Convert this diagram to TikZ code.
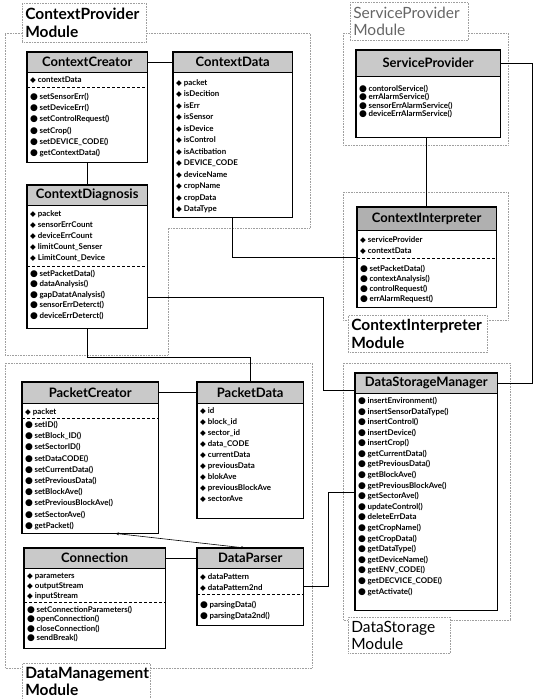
\documentclass[tikz,border=0pt]{standalone}
\usepackage{fontspec}
\setmainfont{Lato}
\newfontfamily\symf{DejaVu Sans}
\usetikzlibrary{shadows,arrows.meta}

% bullets for attributes and operations
\newcommand\attr{{\symf\fontsize{7.5}{7}\selectfont ◆}\hspace{2pt}}
\newcommand\meth{{\symf\fontsize{9}{8}\selectfont ●}\hspace{1.5pt}}

\tikzset{
  x=1pt, y=-1pt,
  classbox/.style={fill=white, inner sep=0pt, anchor=north west,
    drop shadow={shadow xshift=1.2pt, shadow yshift=-1.2pt, fill=black!85, opacity=1}},
  classhead/.style={fill=gray!42, inner sep=0pt, anchor=north west,
    font=\fontsize{13}{14}\selectfont\bfseries},
  frameline/.style={draw=black, line width=1.4pt},
  item/.style={anchor=west, inner sep=0pt, font=\fontsize{7.9}{9}\selectfont\bfseries},
  sepline/.style={densely dashed, line width=0.4pt},
  conn/.style={line width=0.9pt, black},
  module/.style={densely dotted, draw=gray!75, line width=0.6pt},
  modlabel/.style={draw=gray!75, densely dotted, line width=0.6pt, fill=white,
    anchor=north west, inner xsep=3pt, inner ysep=0pt, align=left,
    font=\fontsize{15.5}{17.5}\selectfont},
}

% class box: name, x, y, width, height, header height, title
\newcommand\umlclass[7]{%
  \node[classbox, minimum width=#4pt, minimum height=#5pt] (#1) at (#2,#3) {};
  \node[classhead, minimum width=#4pt, minimum height=#6pt] (#1h) at (#2,#3) {#7};
  \draw[line width=0.5pt] (#1h.south west) -- (#1h.south east);
}
% list of entries: prefix, x, first y, step, bullet, entries
\newcommand\entries[6]{%
  \foreach \t [count=\k from 0] in {#6}
    \node[item] (#1-\k) at (#2, #3+#4*\k) {#5\t};
}
% dashed separator inside a class box at height y
\newcommand\sepat[2]{\draw[sepline] (#1.west |- 0,#2) -- (#1.east |- 0,#2);}

\begin{document}
\begin{tikzpicture}
\useasboundingbox (0,0) rectangle (538,699);

% ---------- module frames ----------
\draw[module] (5,33) -- (310,33) -- (310,228) -- (168,228) -- (168,355) -- (5,355) -- cycle;
\draw[module] (343,33) rectangle (508,145);
\draw[module] (343,192) rectangle (508,320);
\draw[module] (343,363) rectangle (510,620);
\draw[module] (5,363) rectangle (312,668);

% ---------- classes ----------
\umlclass{cc}{27}{52}{120}{110}{20}{ContextCreator}
\entries{ccA}{30}{80}{11}{\attr}{contextData}
\sepat{cc}{87}
\entries{ccM}{30}{97}{11.2}{\meth}{setSensorErr(),setDeviceErr(),setControlRequest(),setCrop(),setDEVICE\_CODE(),getContextData()}

\umlclass{da}{173}{52}{119}{165}{20}{ContextData}
\entries{daA}{176}{83}{11.5}{\attr}{packet,isDecition,isErr,isSensor,isDevice,isControl,isActibation,DEVICE\_CODE,deviceName,cropName,cropData,DataType}

\umlclass{dg}{27}{185}{120}{143}{20}{ContextDiagnosis}
\entries{dgA}{30}{214}{11}{\attr}{packet,sensorErrCount,deviceErrCount,limitCount\_Senser,LimitCount\_Device}
\sepat{dg}{266}
\entries{dgM}{30}{274}{10.4}{\meth}{setPacketData(),dataAnalysis(),gapDatatAnalysis(),sensorErrDeterct(),deviceErrDeterct()}

\umlclass{sp}{356}{50}{144}{87}{26}{ServiceProvider}
\entries{spM}{359}{89}{8.5}{\meth}{contorolService(),errAlarmService(),sensorErrAlarmService(),deviceErrAlarmService()}

\umlclass{ci}{357}{207}{139}{100}{23}{ContextInterpreter}
\node[classhead, fill=gray!62, minimum width=139pt, minimum height=23pt] (cih2) at (357,207) {ContextInterpreter};
\entries{ciA}{360}{240}{11}{\attr}{serviceProvider,contextData}
\sepat{ci}{258}
\entries{ciM}{360}{269}{10}{\meth}{setPacketData(),contextAnalysis(),controlRequest(),errAlarmRequest()}

\umlclass{dsm}{355}{373}{142}{237}{20}{DataStorageManager}
\entries{dsmM}{358}{401}{10.6}{\meth}{insertEnvironment(),insertSensorDataType(),insertControl(),insertDevice(),insertCrop(),getCurrentData(),getPreviousData(),getBlockAve(),getPreviousBlockAve(),getSectorAve(),updateControl(),deleteErrData,getCropName(),getCropData(),getDataType(),getDeviceName(),getENV\_CODE(),getDECVICE\_CODE(),getActivate()}

\umlclass{pc}{22}{382}{136}{151}{21}{PacketCreator}
\entries{pcA}{25}{412}{11}{\attr}{packet}
\sepat{pc}{418}
\entries{pcM}{25}{425}{11.2}{\meth}{setID(),setBlock\_ID(),setSectorID(),setDataCODE(),setCurrentData(),setPreviousData(),setBlockAve(),setPreviousBlockAve(),setSectorAve(),getPacket()}

\umlclass{pd}{197}{382}{106}{136}{21}{PacketData}
\entries{pdA}{200}{411}{11}{\attr}{id,block\_id,sector\_id,data\_CODE,currentData,previousData,blokAve,previousBlockAve,sectorAve}

\umlclass{cn}{24}{548}{141}{100}{20}{Connection}
\entries{cnA}{27}{577}{9.5}{\attr}{parameters,outputStream,inputStream}
\sepat{cn}{602}
\entries{cnM}{27}{610}{9.3}{\meth}{setConnectionParameters(),openConnection(),closeConnection(),sendBreak()}

\umlclass{dp}{197}{548}{106}{77}{20}{DataParser}
\entries{dpA}{200}{577}{11}{\attr}{dataPattern,dataPattern2nd}
\sepat{dp}{594}
\entries{dpM}{200}{605}{11}{\meth}{parsingData(),parsingData2nd()}

\foreach \n in {cc,da,dg,sp,ci,dsm,pc,pd,cn,dp}
  \draw[frameline] (\n.north west) rectangle (\n.south east);

% ---------- connectors ----------
\coordinate (b1) at (323,297);
\coordinate (b2) at (323,390);
\coordinate (b3) at (0,357);
\coordinate (b4) at (532,0);
\coordinate (b5) at (328,492);

\draw[conn] (cch.east) -- (dah.west);
\draw[conn] (cc.south) -- (dg.north);
\draw[conn] (dg.east |- b1) -- (b1) -- (b2) -- (dsm.west |- b2);
\draw[conn] (da.south) |- (ci.west);
\draw[conn] (dg.south) |- (b3 -| pd.north) -- (pd.north);
\draw[conn] (sp.south -| ci.north) -- (ci.north);
\draw[conn] (sph.east) -- (sph.east -| b4) -- (b4 |- dsmh.east) -- (dsmh.east);
\draw[conn] (pch.east) -- (pdh.west);
\draw[line width=0.6pt, {Stealth[length=4pt,width=3pt]}-{Stealth[length=4pt,width=3pt]}]
  ([xshift=25pt]pc.south) -- ([xshift=-5pt]dp.north);
\draw[conn] (cnh.east) -- (dph.west);
\draw[conn] (dp.east) -| (b5) -- (dsm.west |- b5);

% ---------- module labels ----------
\node[modlabel, minimum width=124pt, minimum height=39pt, text width=118pt] (lcp) at (22,3)
  {\bfseries ContextProvider\\\bfseries Module};
\node[modlabel, minimum width=118pt, minimum height=38pt, text width=112pt, text=black!60] (lsp) at (350,2)
  {ServiceProvider\\Module};
\node[modlabel, minimum width=139pt, minimum height=37pt, text width=133pt] (lci) at (348,315)
  {\bfseries ContextInterpreter\\\bfseries Module};
\node[modlabel, minimum width=102pt, minimum height=36pt, text width=96pt] (lds) at (348,617)
  {DataStorage\\Module};
\node[modlabel, minimum width=128pt, minimum height=36pt, text width=122pt] (ldm) at (22,663)
  {\bfseries DataManagement\\\bfseries Module};
\end{tikzpicture}
\end{document}
